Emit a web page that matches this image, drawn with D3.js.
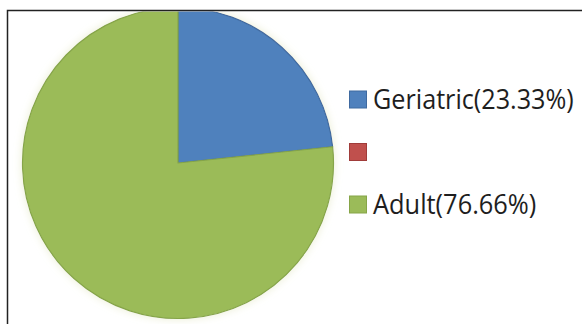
<!DOCTYPE html>
<html>
<head>
<meta charset="utf-8">
<script src="https://cdn.jsdelivr.net/npm/d3@7"></script>
<style>
  html, body { margin: 0; padding: 0; background: #fff; }
  svg { display: block; }
</style>
</head>
<body>
<svg id="chart" width="582" height="324"></svg>
<script>
// Age groups and their shares (%)
const categories = ["Geriatric(23.33%)", "", "Adult(76.66%)"];
const values = [23.33, 0, 76.66];
const colors = ["#4f81bd", "#c0504d", "#9bbb59"];
const edgeColors = ["#3f6aa0", "#a03c3a", "#86a548"];

const W = 582, H = 324;
const svg = d3.select("#chart");

// plot frame
const frame = { x: 7.5, y: 10.5 };

const defs = svg.append("defs");
defs.append("clipPath").attr("id", "frameClip")
  .append("rect").attr("x", frame.x + 1).attr("y", frame.y + 1)
  .attr("width", W).attr("height", H);

const glow = defs.append("filter").attr("id", "glow")
  .attr("x", "-10%").attr("y", "-10%").attr("width", "120%").attr("height", "120%");
glow.append("feGaussianBlur").attr("in", "SourceAlpha").attr("stdDeviation", 4).attr("result", "b");
glow.append("feFlood").attr("flood-color", "#e9eccf").attr("flood-opacity", 0.9);
glow.append("feComposite").attr("in2", "b").attr("operator", "in").attr("result", "s");
const fm = glow.append("feMerge");
fm.append("feMergeNode").attr("in", "s");
fm.append("feMergeNode").attr("in", "SourceGraphic");

const cx = 178, cy = 163, r = 155.5;

const pie = d3.pie().sort(null).value(d => d.value).startAngle(0).endAngle(2 * Math.PI);
const data = categories.map((c, i) => ({ label: c, value: values[i], i }));
const arcs = pie(data);
const arc = d3.arc().innerRadius(0).outerRadius(r);

const g = svg.append("g").attr("clip-path", "url(#frameClip)")
  .append("g").attr("transform", `translate(${cx},${cy})`).attr("filter", "url(#glow)");

g.selectAll("path").data(arcs.filter(a => a.data.value > 0)).join("path")
  .attr("d", arc)
  .attr("fill", d => colors[d.data.i])
  .attr("stroke", d => edgeColors[d.data.i])
  .attr("stroke-width", 1.2)
  .attr("stroke-linejoin", "round");

// frame lines (top and left)
svg.append("path")
  .attr("d", `M${frame.x},${H} V${frame.y} H${W}`)
  .attr("fill", "none").attr("stroke", "#222").attr("stroke-width", 1.5);

// legend
const legend = svg.append("g");
const legendX = 349.5, legendY0 = 99.5, legendStep = 52.5, box = 17, textGap = 23.5;
const items = legend.selectAll("g").data(data).join("g")
  .attr("transform", (d, i) => `translate(${legendX},${legendY0 + i * legendStep})`);
items.append("rect")
  .attr("x", 0).attr("y", -box / 2).attr("width", box).attr("height", box)
  .attr("fill", d => colors[d.i])
  .attr("stroke", d => edgeColors[d.i]).attr("stroke-width", 1);
const labels = items.append("text")
  .attr("x", 0).attr("y", 0).attr("dy", "0.34em")
  .attr("transform", `translate(${textGap},0)`)
  .attr("font-family", "'Open Sans', 'Noto Sans', sans-serif")
  .attr("font-size", 27)
  .attr("fill", "#1e1e1e")
  .text(d => d.label);

// narrow-face advance widths (em) used to size the legend labels
const adv = { G: .631, A: .579, e: .498, r: .349, i: .229, a: .479, t: .335, c: .423,
  d: .525, u: .525, l: .229, "(": .303, ")": .303, ".": .252, "%": .715 };
const emWidth = s => Array.from(s).reduce((w, ch) => w + (adv[ch] ?? .507), 0);
const legendEm = 28.2;
labels.each(function (d) {
  if (!d.label) return;
  const len = this.getComputedTextLength();
  const target = emWidth(d.label) * legendEm;
  if (len > target) {
    d3.select(this).attr("transform", `translate(${textGap},0) scale(${target / len},1)`);
  }
});
</script>
</body>
</html>
